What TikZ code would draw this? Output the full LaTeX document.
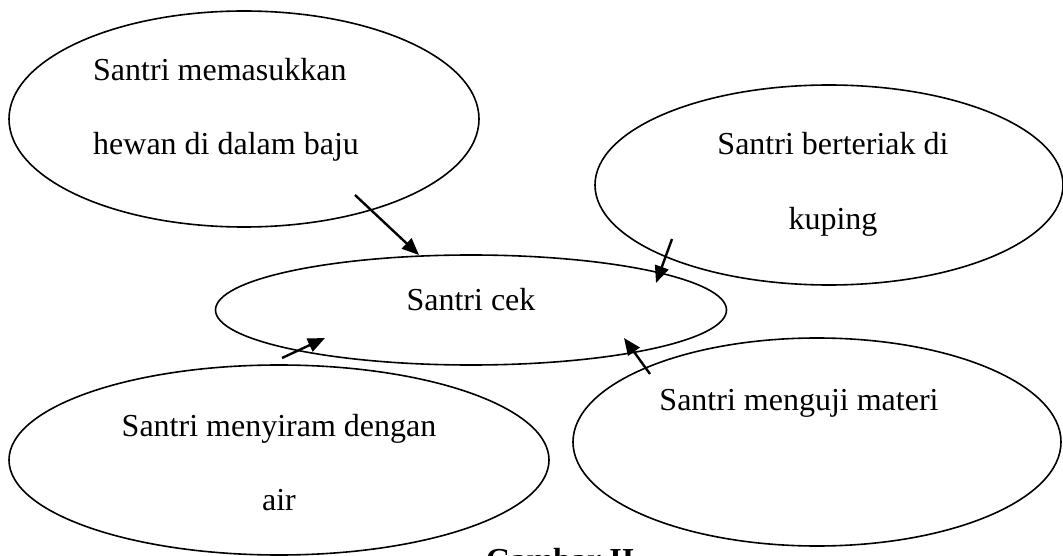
\documentclass[tikz,border=0pt]{standalone}
\usepackage{fontspec}
\setmainfont{Liberation Serif}
\usetikzlibrary{shapes.geometric,arrows.meta}
\begin{document}
\begin{tikzpicture}[x=1pt,y=-1pt,
  oval/.style={draw=black,line width=1.6pt,ellipse,inner sep=0pt},
  lbl/.style={font=\fontsize{32}{38}\selectfont,inner sep=0pt,anchor=base},
  conn/.style={line width=2.4pt,-{Triangle[length=17pt,width=14pt]}}]
\useasboundingbox (0,0) rectangle (1063,556);
% ellipses
\node[oval,minimum width=470pt,minimum height=216pt] (tl) at (244,119) {};
\node[oval,minimum width=468pt,minimum height=200pt] (tr) at (829,185) {};
\node[oval,minimum width=511pt,minimum height=110pt] (c) at (471,310) {};
\node[oval,minimum width=540pt,minimum height=190pt] (bl) at (279,460) {};
\node[oval,minimum width=488pt,minimum height=208pt] (br) at (817,442) {};
% labels
\node[lbl,anchor=base west] (t1) at (93,81) {Santri memasukkan};
\node[lbl,anchor=base west] (t2) at (93,155) {hewan di dalam baju};
\node[lbl] (t3) at (833,155) {Santri berteriak di};
\node[lbl] (t4) at (833,230) {kuping};
\node[lbl] (t5) at (471,310) {Santri cek};
\node[lbl] (t6) at (279,436) {Santri menyiram dengan};
\node[lbl] (t7) at (279,510) {air};
\node[lbl] (t8) at (799,410) {Santri menguji materi};
\node[lbl,font=\fontsize{32}{38}\selectfont\bfseries] (cap) at (560,570) {Gambar II};
% connector ends
\coordinate (a1) at (355,195);
\coordinate (b1) at (419,255);
\coordinate (a2) at (672,239);
\coordinate (b2) at (656,283);
\coordinate (a3) at (282,358);
\coordinate (b3) at (325,338);
\coordinate (a4) at (650,374);
\coordinate (b4) at (624,338);
\draw[conn] (a1) -- (b1);
\draw[conn] (a2) -- (b2);
\draw[conn] (a3) -- (b3);
\draw[conn] (a4) -- (b4);
\end{tikzpicture}
\end{document}
